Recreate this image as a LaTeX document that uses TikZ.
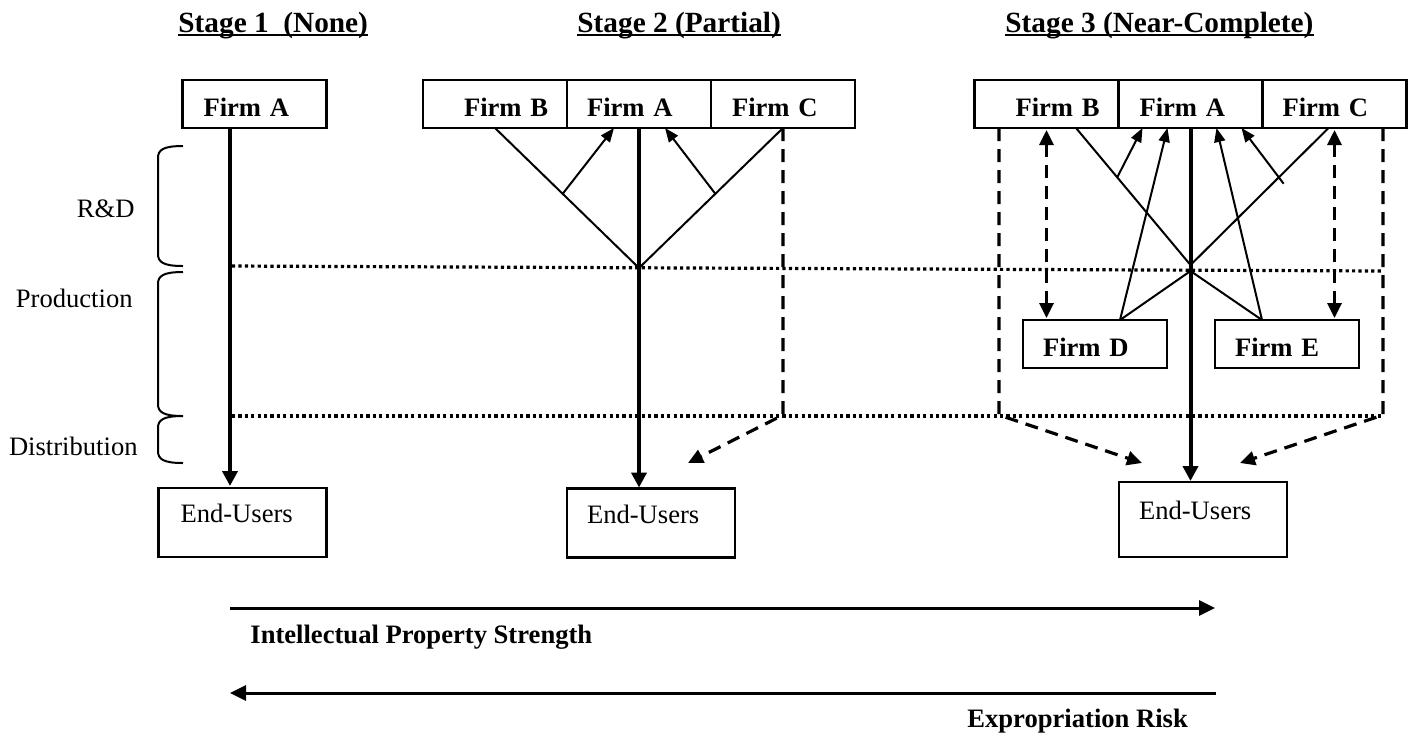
\documentclass[tikz,border=0pt]{standalone}
\usepackage{fontspec}
\setmainfont{Liberation Serif}
\usetikzlibrary{arrows.meta,calc}

\newcommand{\bodyfont}{\fontsize{13.3}{16}\selectfont}
\newcommand{\stagefont}{\fontsize{14.65}{17}\selectfont\bfseries}

\tikzset{
  firm/.style={draw, line width=1.2pt, text width=72pt, inner xsep=0pt, outer sep=0pt,
    minimum height=24pt, align=left, text height=12pt, text depth=0pt,
    font=\bodyfont\bfseries},
  users/.style={draw, line width=1.2pt, text width=84pt, inner xsep=0pt, outer sep=0pt,
    minimum height=34.5pt, align=left, text height=9pt, text depth=9pt,
    font=\bodyfont},
  stage/.style={inner sep=0pt, anchor=base west, font=\stagefont},
  phase/.style={inner sep=0pt, anchor=base east, font=\bodyfont},
  trendlabel/.style={inner sep=0pt, anchor=base west, font=\bodyfont\bfseries},
  flow/.style={line width=2pt, -{Triangle[length=7.5pt,width=7.5pt]}},
  link/.style={line width=1pt},
  feedback/.style={line width=1pt, -{Triangle[length=7pt,width=5.5pt]}},
  spill/.style={line width=1.6pt, dash pattern=on 6.5pt off 4pt},
  spilltip/.style={-{Triangle[length=7.5pt,width=7pt]}},
  spillboth/.style={{Triangle[length=7.5pt,width=7pt]}-{Triangle[length=7.5pt,width=7pt]}},
  stageline/.style={line width=1.6pt, dash pattern=on 1.6pt off 1.6pt},
  bracket/.style={line width=1pt},
  trend/.style={line width=1.5pt, -{Triangle[length=8pt,width=7.5pt]}},
}

\begin{document}
\begin{tikzpicture}[x=0.5pt, y=-0.5pt]
    \useasboundingbox (0,0) rectangle (1413,736);

    % Stage titles
    \node[stage] (t1) at (178,32) {Stage 1\ \ (None)};
    \node[stage] (t2) at (577,32) {Stage 2 (Partial)};
    \node[stage] (t3) at (1005,32) {Stage 3 (Near-Complete)};
    \foreach \t in {t1,t2,t3}
        \draw[line width=1.2pt] ([yshift=-1.6pt]\t.base west) -- ([yshift=-1.6pt]\t.base east);

    % Value chain phases
    \node[phase] (rd) at (135,217) {R\&D};
    \node[phase] (prod) at (133,307) {Production};
    \node[phase] (dist) at (138,455) {Distribution};
    \draw[bracket] (183,146) .. controls (163,146) and (158,150) .. (158,158) -- (158,254) .. controls (158,262) and (163,266) .. (183,266);
    \draw[bracket] (183,272) .. controls (163,272) and (158,276) .. (158,284) -- (158,404) .. controls (158,412) and (163,416) .. (183,416);
    \draw[bracket] (183,416) .. controls (163,416) and (158,420) .. (158,428) -- (158,451) .. controls (158,459) and (163,463) .. (183,463);
    \draw[stageline] (232,266) -- (1383,271);
    \draw[stageline] (232,416) -- (1383,416);

    % Stage 1
    \node[firm] (s1a) at (254.5,104) {\hspace*{10.5pt}Firm A};
    \node[users] (s1eu) at (242.5,522.5) {\hspace*{11pt}End-Users};
    \coordinate (s1x) at (230,0);
    \draw[flow, shorten >=1pt] (s1a.south -| s1x) -- (s1eu.north -| s1x);

    % Stage 2
    \node[firm] (s2b) at (495,104) {\hspace*{20.5pt}Firm B};
    \node[firm, anchor=west] (s2a) at (s2b.east) {\hspace*{10pt}Firm A};
    \node[firm, anchor=west] (s2c) at (s2a.east) {\hspace*{10.5pt}Firm C};
    \node[users] (s2eu) at (651,523) {\hspace*{10pt}End-Users};
    \coordinate (s2v) at (639,268);
    \coordinate (s2turn) at (783,415);
    \coordinate (s2end) at (688,463);
    \draw[link] (s2b.south) -- (s2v) -- (s2c.south);
    \draw[feedback] ($(s2b.south)!0.47!(s2v)$) -- ([xshift=-12.5pt]s2a.south);
    \draw[feedback] ($(s2c.south)!0.47!(s2v)$) -- ([xshift=13pt]s2a.south);
    \draw[flow, shorten >=0.5pt] (s2a.south) -- (s2a.south |- s2eu.north);
    \draw[spill, spilltip] (s2c.south) -- (s2turn) -- (s2end);

    % Stage 3
    \node[firm] (s3b) at (1046.5,104) {\hspace*{20.5pt}Firm B};
    \node[firm, anchor=west] (s3a) at (s3b.east) {\hspace*{10.5pt}Firm A};
    \node[firm, anchor=west] (s3c) at (s3a.east) {\hspace*{10pt}Firm C};
    \node[firm] (s3d) at (1095,344) {\hspace*{10pt}Firm D};
    \node[firm] (s3e) at (1287,344) {\hspace*{10pt}Firm E};
    \node[users, minimum height=37.5pt] (s3eu) at (1203,519.5) {\hspace*{10pt}End-Users};
    \coordinate (s3v) at (1190.5,265);
    \coordinate (s3w) at (1190.5,271);
    \coordinate (s3l) at (999,415);
    \coordinate (s3r) at (1383,415);
    \coordinate (s3lend) at (1142,463);
    \coordinate (s3rend) at (1240,463);
    \draw[link] ([xshift=14.75pt]s3b.south) -- (s3v) -- ([xshift=-3pt]s3c.south);
    \draw[link] ([xshift=12.5pt]s3d.north) -- (s3w) -- ([xshift=-12.5pt]s3e.north);
    \draw[feedback] ($([xshift=14.75pt]s3b.south)!0.36!(s3v)$) -- ([xshift=-24pt]s3a.south);
    \draw[feedback, shorten <=-4pt] ($([xshift=-3pt]s3c.south)!0.36!(s3v)$) -- ([xshift=25.5pt]s3a.south);
    \draw[feedback] ([xshift=12.5pt]s3d.north) -- ([xshift=-11.5pt]s3a.south);
    \draw[feedback] ([xshift=-12.5pt]s3e.north) -- ([xshift=13pt]s3a.south);
    \draw[flow, shorten >=0.5pt] (s3a.south) -- (s3a.south |- s3eu.north);
    \draw[spill, spilltip] (s3b.south -| s3l) -- (s3l) -- (s3lend);
    \draw[spill, spilltip] (s3c.south -| s3r) -- (s3r) -- (s3rend);
    \draw[spill, spillboth, shorten <=1pt, shorten >=1pt] (s3b.south) -- (s3b.south |- s3d.north);
    \draw[spill, spillboth, shorten <=1pt, shorten >=1pt] (s3c.south) -- (s3c.south |- s3e.north);

    % Trends
    \coordinate (ipL) at (230,608);
    \coordinate (ipR) at (1215,608);
    \coordinate (erL) at (230,693);
    \coordinate (erR) at (1216,693);
    \draw[trend] (ipL) -- (ipR);
    \node[trendlabel] (ip) at (250,643) {Intellectual Property Strength};
    \draw[trend] (erR) -- (erL);
    \node[trendlabel] (er) at (967,727) {Expropriation Risk};
\end{tikzpicture}
\end{document}
